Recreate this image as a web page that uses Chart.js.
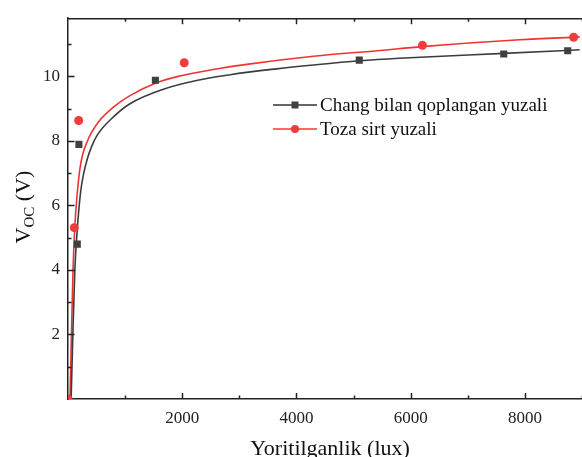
<!DOCTYPE html>
<html>
<head>
<meta charset="utf-8">
<script src="https://cdn.jsdelivr.net/npm/chart.js@4.4.0/dist/chart.umd.min.js"></script>
<style>
    html, body { margin: 0; padding: 0; background: #fff; }
    #wrap { width: 582px; height: 457px; }
</style>
</head>
<body>
<div id="wrap"><canvas id="grafik"></canvas></div>
<script>
// O'lchangan nuqtalar - chang bilan qoplangan yuza
const changX = [163, 191, 1530, 5100, 7630, 8750];
const changY = [4.8, 7.89, 9.88, 10.5, 10.69, 10.79];

// O'lchangan nuqtalar - toza sirt
const tozaX = [0, 110, 187, 2035, 6206, 8854];
const tozaY = [0, 5.31, 8.63, 10.42, 10.96, 11.21];

// Approksimatsiya egri chiziqlari (rasmdan o'qilgan)
const changFitX = [55, 85, 120, 160, 220, 270, 340, 420, 520, 800, 1085, 1670, 2250, 2840, 3650, 4300, 5100, 5800, 7630, 8960];
const changFitY = [0, 2.0, 4.0, 5.2, 6.4, 6.95, 7.45, 7.85, 8.2, 8.75, 9.15, 9.6, 9.87, 10.05, 10.23, 10.35, 10.48, 10.56, 10.71, 10.82];
const tozaFitX = [35, 60, 88, 118, 163, 210, 260, 330, 400, 540, 800, 1085, 1550, 1960, 2540, 3130, 4300, 5460, 6200, 7910, 8960];
const tozaFitY = [0, 2.0, 4.0, 5.3, 6.4, 7.15, 7.6, 7.95, 8.22, 8.6, 9.05, 9.4, 9.8, 10.01, 10.21, 10.37, 10.62, 10.8, 10.92, 11.13, 11.22];

const seriesNames = ['Chang bilan qoplangan yuzali', 'Toza sirt yuzali'];
const xTitle = 'Yoritilganlik (lux)';

function pairs(xs, ys) {
    return xs.map((x, i) => ({ x: x, y: ys[i] }));
}

const serif = 'Liberation Serif, Times New Roman, serif';

// ramka, ichki tiklar, sarlavhalar va legenda
const ramka = {
    id: 'ramka',
    afterDraw(chart) {
        const { ctx, chartArea: a, scales: { x, y } } = chart;
        ctx.save();
        ctx.strokeStyle = '#222';
        ctx.lineWidth = 1.5;
        ctx.beginPath();
        ctx.moveTo(a.left, a.top + 0.5);
        ctx.lineTo(a.right, a.top + 0.5);
        for (let v = 1000; v <= 9000; v += 1000) {
            const px = Math.round(x.getPixelForValue(v)) + 0.5;
            const len = v % 2000 === 0 ? 6 : 3.5;
            ctx.moveTo(px, a.bottom);
            ctx.lineTo(px, a.bottom - len);
            ctx.moveTo(px, a.top);
            ctx.lineTo(px, a.top + len);
        }
        for (let v = 1; v <= 11; v++) {
            const py = Math.round(y.getPixelForValue(v)) + 0.5;
            const len = v % 2 === 0 ? 6.5 : 3.5;
            ctx.moveTo(a.left, py);
            ctx.lineTo(a.left + len, py);
        }
        ctx.stroke();

        // x o'qi sarlavhasi
        ctx.fillStyle = '#111';
        ctx.font = '22px ' + serif;
        ctx.textAlign = 'center';
        ctx.textBaseline = 'alphabetic';
        ctx.fillText(xTitle, 330, 455);

        // y o'qi sarlavhasi: V_OC (V)
        ctx.save();
        ctx.translate(30, 207);
        ctx.rotate(-Math.PI / 2);
        const big = '22px ' + serif, small = '15px ' + serif;
        ctx.font = big;
        const wV = ctx.measureText('V').width;
        const wRest = ctx.measureText(' (V)').width;
        ctx.font = small;
        const wSub = ctx.measureText('OC').width;
        let cx = -(wV + wSub + wRest) / 2;
        ctx.textAlign = 'left';
        ctx.font = big;
        ctx.fillText('V', cx, 0);
        cx += wV;
        ctx.font = small;
        ctx.fillText('OC', cx, 4);
        cx += wSub;
        ctx.font = big;
        ctx.fillText(' (V)', cx, 0);
        ctx.restore();

        // legenda
        const rows = [
            { name: seriesNames[0], line: '#666', fill: '#404040', shape: 'rect', yy: 105 },
            { name: seriesNames[1], line: '#f66', fill: '#f03c3c', shape: 'circle', yy: 129 }
        ];
        rows.forEach(r => {
            ctx.strokeStyle = r.line;
            ctx.lineWidth = 2;
            ctx.beginPath();
            ctx.moveTo(273, r.yy);
            ctx.lineTo(317, r.yy);
            ctx.stroke();
            ctx.fillStyle = r.fill;
            if (r.shape === 'rect') {
                ctx.fillRect(295 - 3.5, r.yy - 3.5, 7, 7);
            } else {
                ctx.beginPath();
                ctx.arc(295, r.yy, 4, 0, Math.PI * 2);
                ctx.fill();
            }
            ctx.fillStyle = '#111';
            ctx.font = '19px ' + serif;
            ctx.textAlign = 'left';
            ctx.textBaseline = 'middle';
            ctx.fillText(r.name, 320, r.yy + 1);
        });
        ctx.restore();
    }
};

const ctx_grafik = document.getElementById('grafik').getContext('2d');
const grafik = new Chart(ctx_grafik, {
    type: 'scatter',
    data: {
        datasets: [
            {
                label: seriesNames[0],
                data: pairs(changX, changY),
                pointStyle: 'rect',
                pointRadius: 5,
                backgroundColor: '#404040',
                borderWidth: 0
            },
            {
                label: seriesNames[1],
                data: pairs(tozaX, tozaY),
                pointStyle: 'circle',
                pointRadius: 4.5,
                backgroundColor: '#f03c3c',
                borderWidth: 0
            },
            {
                label: 'fit1',
                data: pairs(changFitX, changFitY),
                showLine: true,
                pointRadius: 0,
                borderColor: '#3c3c3c',
                borderWidth: 1.6,
                cubicInterpolationMode: 'monotone'
            },
            {
                label: 'fit2',
                data: pairs(tozaFitX, tozaFitY),
                showLine: true,
                pointRadius: 0,
                borderColor: '#ee3333',
                borderWidth: 1.6,
                cubicInterpolationMode: 'monotone'
            }
        ]
    },
    options: {
        responsive: true,
        maintainAspectRatio: false,
        animation: false,
        layout: { autoPadding: false, padding: { top: 13, right: 0, left: 0, bottom: 0 } },
        plugins: {
            legend: { display: false },
            tooltip: { enabled: false }
        },
        scales: {
            x: {
                type: 'linear',
                min: 0,
                max: 9000,
                grid: { display: false, drawTicks: false },
                border: { display: true, color: '#222', width: 1.5 },
                afterFit: s => { s.height = 58; s.paddingRight = 0; s.paddingLeft = 0; },
                ticks: {
                    stepSize: 1000,
                    autoSkip: false,
                    maxRotation: 0,
                    padding: 9,
                    color: '#222',
                    font: { family: serif, size: 17 },
                    callback: v => (v > 0 && v % 2000 === 0) ? v : ''
                }
            },
            y: {
                type: 'linear',
                min: 0,
                max: 11.8,
                grid: { display: false, drawTicks: false },
                border: { display: true, color: '#222', width: 1.5 },
                afterFit: s => { s.width = 68; },
                ticks: {
                    stepSize: 1,
                    includeBounds: false,
                    padding: 8,
                    color: '#222',
                    font: { family: serif, size: 17 },
                    callback: v => (v > 0 && v % 2 === 0) ? v : ''
                }
            }
        }
    },
    plugins: [ramka]
});
</script>
</body>
</html>
